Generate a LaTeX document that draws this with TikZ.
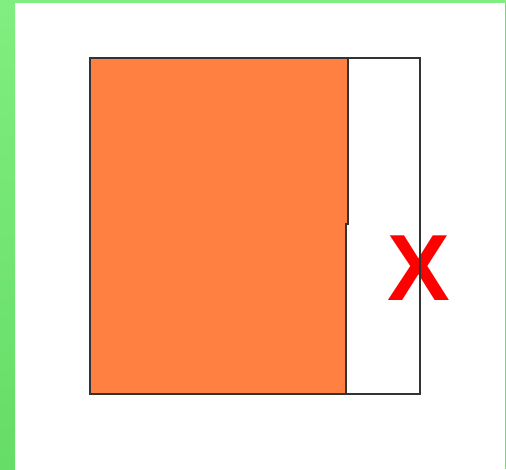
\documentclass[tikz,border=0pt]{standalone}
\usepackage{fontspec}
\setsansfont{Liberation Sans}
\usepackage{xcolor}
\usetikzlibrary{positioning}

\definecolor{bandtop}{HTML}{80EE80}
\definecolor{bandbot}{HTML}{66DD66}
\definecolor{fillorange}{HTML}{FF8040}
\definecolor{edgegray}{HTML}{333333}

\begin{document}
\begin{tikzpicture}[x=1pt, y=-1pt,
  outline/.style={draw=edgegray, line width=2pt},
  crossmark/.style={font=\sffamily\bfseries\fontsize{94}{94}\selectfont, text=red, inner sep=0pt}
]
\useasboundingbox (0,0) rectangle (506,469);
% frame
\fill[white] (0,0) rectangle (506,469);
\shade[top color=bandtop, bottom color=bandbot] (0,0) rectangle (15,469);
\fill[bandtop] (15,0) rectangle (506,3);
\fill[bandbot!80!bandtop] (505,3) rectangle (506,469);

% filled part
\fill[fillorange] (90,58) -- (348,58) -- (348,224) -- (346,224) -- (346,394) -- (90,394) -- cycle;
\node[crossmark] (cross) at (419,268) {X};
\draw[outline] (348,58) -- (348,224) -- (346,224) -- (346,394);
\draw[outline] (90,58) rectangle (420,394);
\end{tikzpicture}
\end{document}
